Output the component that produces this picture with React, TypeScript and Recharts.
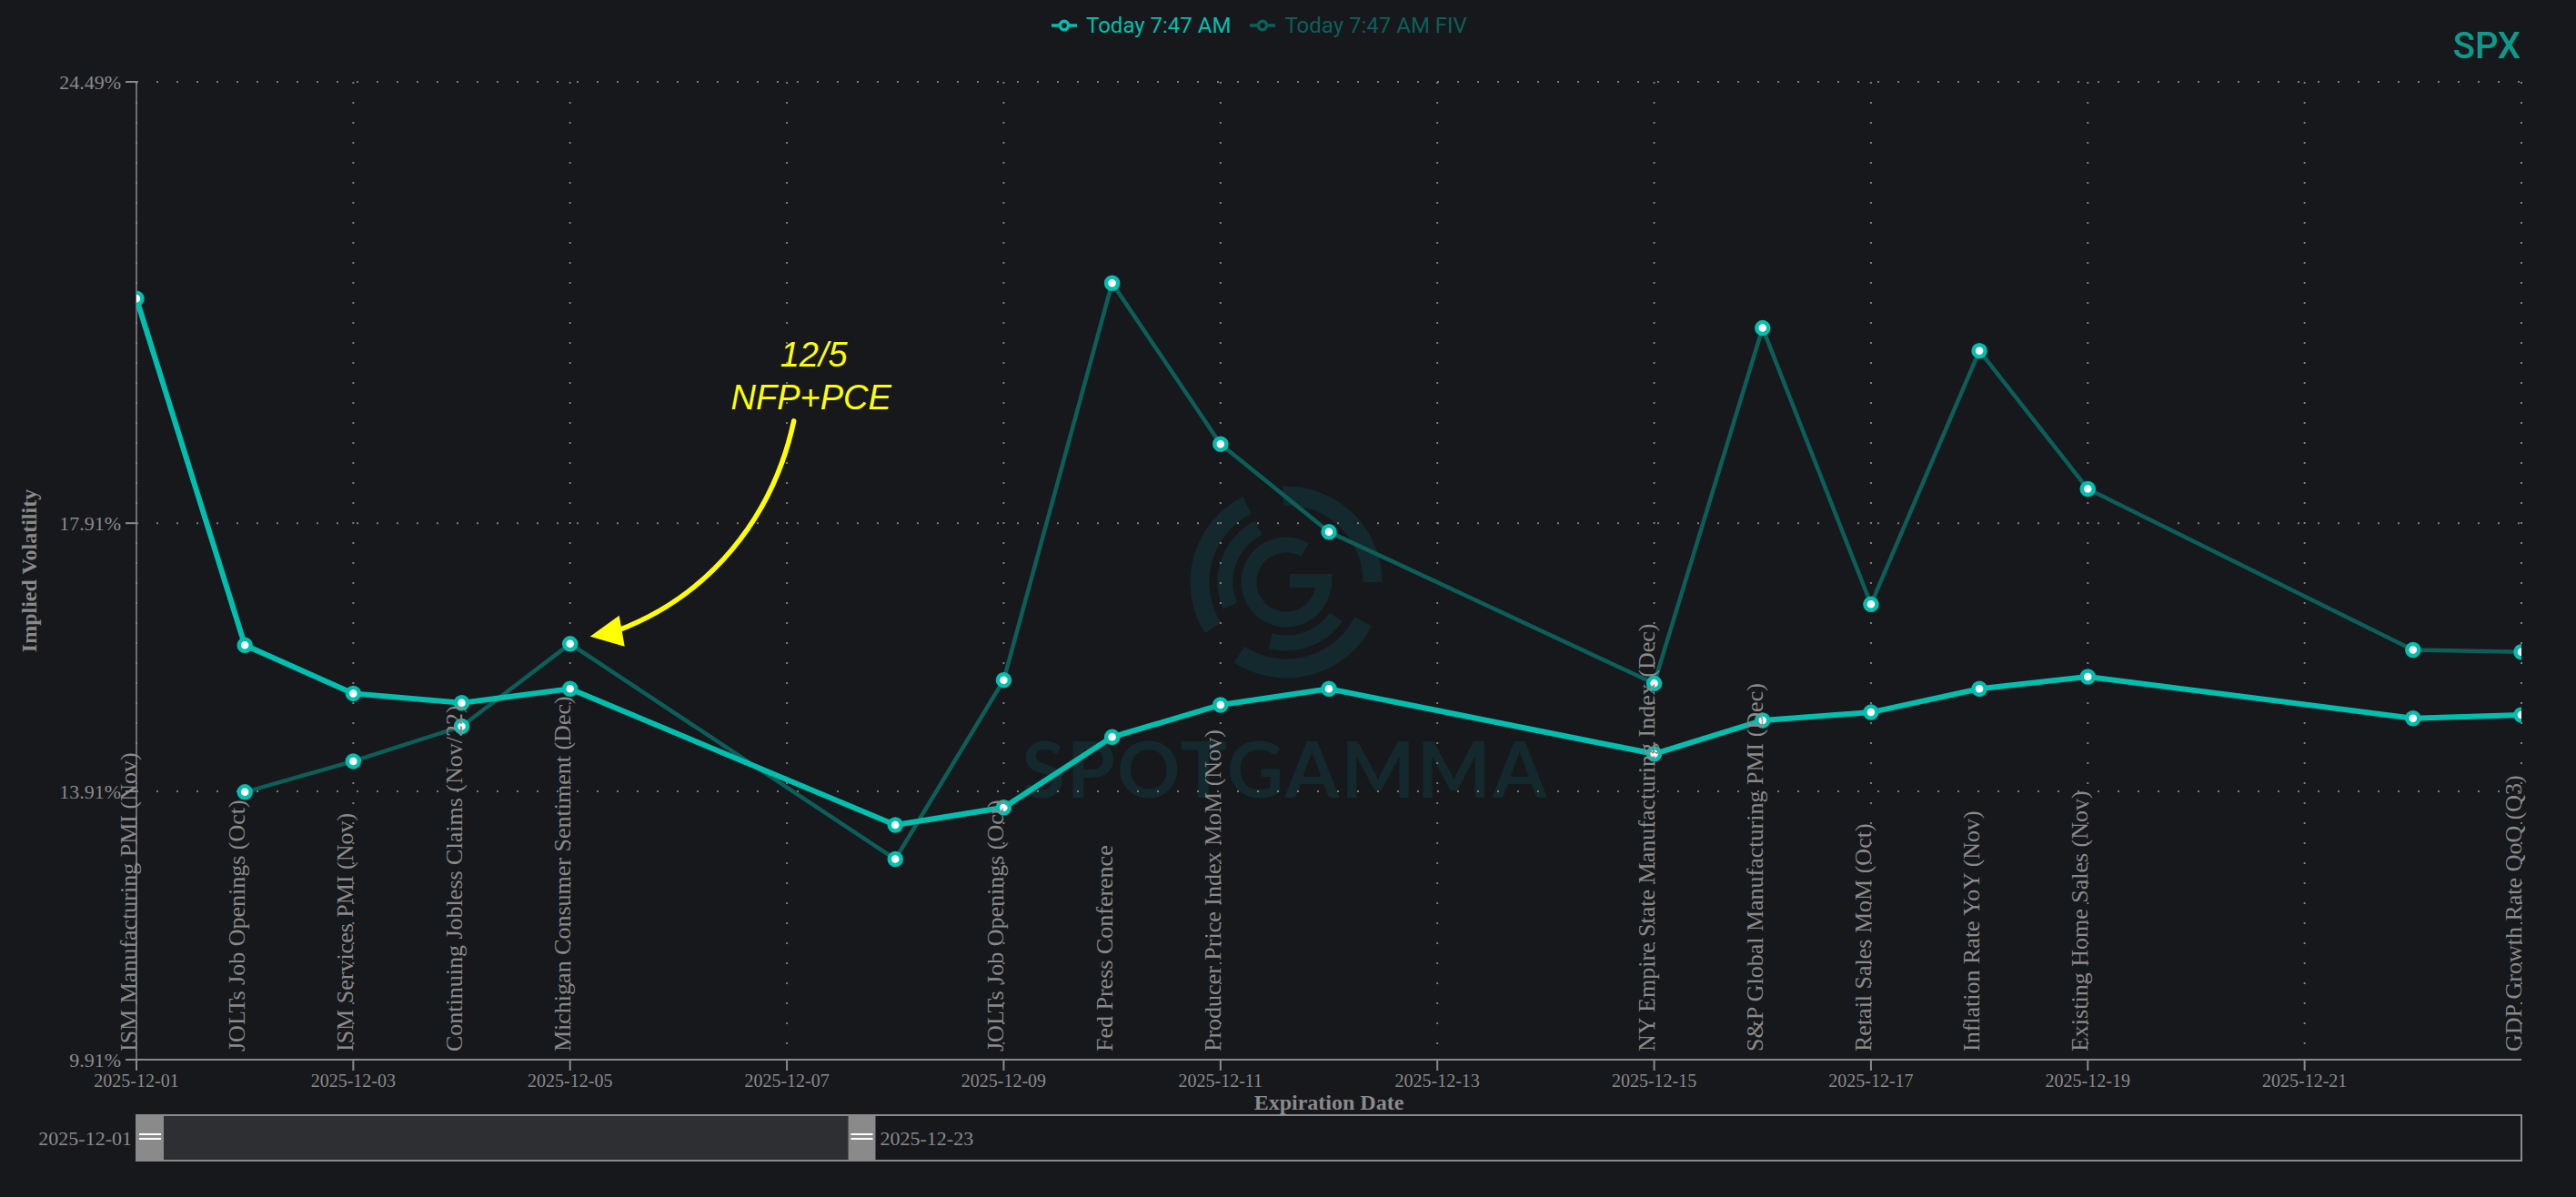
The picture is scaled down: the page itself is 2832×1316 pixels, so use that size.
import React from "react"
import { LineChart, Line, XAxis, YAxis, CartesianGrid, Legend, Brush, LabelList, ReferenceDot } from "recharts"

const BG = "#16181c"
const GRAY = "#8a8a8a"
const GRID = "#7d7d7d"
const TODAY = "#00bfae"
const FIV = "#0c5f58"
const YELLOW = "#ffff00"
const MARK = "#13292d"

// expirations shown in the chart window
const expirations = [
    "2025-12-01", "2025-12-02", "2025-12-03", "2025-12-04", "2025-12-05",
    "2025-12-08", "2025-12-09", "2025-12-10", "2025-12-11", "2025-12-12",
    "2025-12-15", "2025-12-16", "2025-12-17", "2025-12-18", "2025-12-19",
    "2025-12-22", "2025-12-23",
]
// later expirations, only reached through the brush
const laterExpirations = [
    "2025-12-24", "2025-12-26", "2025-12-29", "2025-12-30", "2025-12-31",
    "2026-01-02", "2026-01-05", "2026-01-06", "2026-01-07", "2026-01-08",
    "2026-01-09", "2026-01-12", "2026-01-13", "2026-01-14", "2026-01-15",
    "2026-01-16", "2026-01-20", "2026-01-21", "2026-01-22", "2026-01-23",
    "2026-01-26", "2026-01-27", "2026-01-28", "2026-01-29", "2026-01-30",
    "2026-02-02", "2026-02-03", "2026-02-04", "2026-02-05", "2026-02-06",
    "2026-02-09", "2026-02-10", "2026-02-11", "2026-02-12", "2026-02-13",
    "2026-02-17", "2026-02-18",
]
const todayIV = [21.26, 16.09, 15.37, 15.23, 15.44, 13.41, 13.67, 14.72, 15.2, 15.44, 14.47, 14.97, 15.09, 15.44, 15.62, 15.0, 15.05]
const fivIV = [null, 13.9, 14.36, 14.88, 16.11, 12.9, 15.57, 21.49, 19.09, 17.78, 15.52, 20.82, 16.7, 20.48, 18.42, 16.02, 15.99]
const events = [
    "ISM Manufacturing PMI (Nov)",
    "JOLTs Job Openings (Oct)",
    "ISM Services PMI (Nov)",
    "Continuing Jobless Claims (Nov/22)",
    "Michigan Consumer Sentiment (Dec)",
    "",
    "JOLTs Job Openings (Oct)",
    "Fed Press Conference",
    "Producer Price Index MoM (Nov)",
    "",
    "NY Empire State Manufacturing Index (Dec)",
    "S&P Global Manufacturing PMI (Dec)",
    "Retail Sales MoM (Oct)",
    "Inflation Rate YoY (Nov)",
    "Existing Home Sales (Nov)",
    "",
    "GDP Growth Rate QoQ (Q3)",
]
const xTickDates = [
    "2025-12-01", "2025-12-03", "2025-12-05", "2025-12-07", "2025-12-09", "2025-12-11",
    "2025-12-13", "2025-12-15", "2025-12-17", "2025-12-19", "2025-12-21",
]
const gridDates = [...xTickDates, "2025-12-23"]
const yTicks = [9.91, 13.91, 17.91, 24.49]

const W = 2832
const H = 1316
const MARGIN = { top: 0, right: 60, bottom: 40, left: 0 }
const LEGEND_H = 90
const XAXIS_H = 61
const BRUSH_H = 50
const PLOT_BOTTOM = H - MARGIN.bottom - BRUSH_H - XAXIS_H

const toTime = (d: string) => Date.parse(d + "T00:00:00Z")
const fmtDate = (t: number) => new Date(t).toISOString().slice(0, 10)
const T0 = toTime(expirations[0])
const T1 = toTime(expirations[expirations.length - 1])

const data = [...expirations, ...laterExpirations].map((date, i) => ({
    date,
    t: toTime(date),
    today: todayIV[i] ?? null,
    fiv: fivIV[i] ?? null,
    event: events[i] ?? "",
}))

const legendOrder = ["today", "fiv"]

function LegendContent({ payload }: any) {
    const items = [...(payload || [])].sort((a, b) => legendOrder.indexOf(a.dataKey) - legendOrder.indexOf(b.dataKey))
    return <div style={{ position: "relative", width: W, height: LEGEND_H }}>
        <div style={{ position: "absolute", left: 1156, top: 8, height: 40, display: "flex", alignItems: "center", fontFamily: "Roboto", fontSize: 24 }}>
            {items.map((it: any) => <div key={it.value} style={{ display: "flex", alignItems: "center", marginRight: 21, color: it.color }}>
                <svg width={28} height={28} viewBox="0 0 32 32" style={{ marginRight: 10 }}>
                    <path strokeWidth={4} fill="none" stroke={it.color}
                        d="M0,16h10.67A5.33,5.33,0,1,1,21.33,16H32M21.33,16A5.33,5.33,0,1,1,10.67,16" />
                </svg>
                <span>{it.value}</span>
            </div>)}
        </div>
    </div>
}

function EventLabel(props: any) {
    const { x, value } = props
    if (!value || x == null) return null
    const y = PLOT_BOTTOM - 9
    return <text x={x} y={y} transform={`rotate(-90 ${x} ${y})`} fill={GRAY} fontSize={26} fontFamily="Liberation Serif">{value}</text>
}

function YTitle(props: any) {
    const vb = props.viewBox || {}
    const cy = (vb.y ?? LEGEND_H) + (vb.height ?? PLOT_BOTTOM - LEGEND_H) / 2
    return <text x={40} y={cy} transform={`rotate(-90 40 ${cy})`} textAnchor="middle" fill={GRAY}
        fontSize={24} fontWeight="bold" fontFamily="Liberation Serif">Implied Volatility</text>
}

function XTitle(props: any) {
    const vb = props.viewBox || {}
    const cx = (vb.x ?? 150) + (vb.width ?? 2622) / 2
    return <text x={cx} y={(vb.y ?? PLOT_BOTTOM) + 55} textAnchor="middle" fill={GRAY}
        fontSize={24} fontWeight="bold" fontFamily="Liberation Serif">Expiration Date</text>
}

function Traveller(props: any) {
    const { x, y, width, height, stroke } = props
    const ly = Math.floor(y + height / 2) - 4
    return <g>
        <rect x={x} y={y} width={width} height={height} fill={stroke} stroke="none" />
        <line x1={x + 3} y1={ly} x2={x + width - 3} y2={ly} stroke="#fff" strokeWidth={2} />
        <line x1={x + 3} y1={ly + 5} x2={x + width - 3} y2={ly + 5} stroke="#fff" strokeWidth={2} />
    </g>
}

function Annotation(props: any) {
    const { cx, cy } = props
    if (cx == null || cy == null) return null
    return <g>
        <path d={`M${cx + 246},${cy - 245} C${cx + 223},${cy - 138} ${cx + 153},${cy - 53} ${cx + 53},${cy - 15}`}
            fill="none" stroke={YELLOW} strokeWidth={5.5} strokeLinecap="round" />
        <polygon points={`${cx + 22},${cy - 8} ${cx + 54},${cy - 31} ${cx + 60},${cy + 3}`} fill={YELLOW} />
        <text x={cx + 268} y={cy - 305} textAnchor="middle" fontFamily="Liberation Sans" fontStyle="italic" fontSize={38} fill={YELLOW}>12/5</text>
        <text x={cx + 265} y={cy - 258} textAnchor="middle" fontFamily="Liberation Sans" fontStyle="italic" fontSize={38} fill={YELLOW}>NFP+PCE</text>
    </g>
}

function arc(cx: number, cy: number, r: number, a0: number, a1: number) {
    const p = (a: number) => [cx + r * Math.cos(a * Math.PI / 180), cy + r * Math.sin(a * Math.PI / 180)]
    const [x0, y0] = p(a0)
    const [x1, y1] = p(a1)
    return `M${x0},${y0}A${r},${r} 0 ${a1 - a0 > 180 ? 1 : 0} 1 ${x1},${y1}`
}

function Watermark() {
    const cx = 1414, cy = 640
    return <g fill="none" stroke={MARK}>
        <path d={arc(cx, cy, 95, -92, 0)} strokeWidth={21} />
        <path d={arc(cx, cy, 95, 27, 123)} strokeWidth={21} />
        <path d={arc(cx, cy, 95, 148, 243)} strokeWidth={21} />
        <path d={arc(cx, cy, 67, 157, 243)} strokeWidth={17} />
        <path d={arc(cx, cy, 67, 35, 105)} strokeWidth={17} />
        <path d={arc(cx, cy, 41, -2, 300)} strokeWidth={17} />
        <rect x={1418} y={631} width={46} height={15} fill={MARK} stroke="none" />
        <text x={1413} y={877} textAnchor="middle" fontFamily="Lato" fontWeight={700} fontSize={86} letterSpacing={2} fill={MARK} stroke="none">SPOTGAMMA</text>
    </g>
}

const gridTimes = gridDates.map(toTime)
const verticalGrid = ({ xAxis, offset }: any) =>
    gridTimes.map(t => xAxis && typeof xAxis.scale === "function"
        ? xAxis.scale(t)
        : offset.left + (t - T0) / (T1 - T0) * offset.width)

const css = `
body { margin: 0; background: ${BG}; }
.recharts-brush > rect:first-child { stroke-width: 2px; }
.recharts-brush-texts text { font-size: 22px; font-family: 'Liberation Serif'; }
`

export default function App() {
    return <div style={{ position: "relative", width: W, height: H, background: BG, overflow: "hidden", fontFamily: "Liberation Serif", fontSize: 22 }}>
        <style>{css}</style>
        <svg width={W} height={H} style={{ position: "absolute", left: 0, top: 0 }}>
            <Watermark />
            <text x={2771} y={64} textAnchor="end" fontFamily="Roboto" fontWeight={500} fontSize={40} fill="#0e9a8b">SPX</text>
        </svg>
        <div style={{ position: "absolute", left: 0, top: 0 }}>
            <LineChart width={W} height={H} data={data} margin={MARGIN}>
                <CartesianGrid stroke={GRID} strokeWidth={2} strokeDasharray="2 20" verticalCoordinatesGenerator={verticalGrid} />
                <XAxis dataKey="t" type="number" domain={[T0, T1]} allowDataOverflow ticks={xTickDates.map(toTime)} interval={0}
                    tickFormatter={fmtDate} height={XAXIS_H} tickSize={12} tickMargin={4}
                    tick={{ fill: GRAY, fontSize: 20, fontFamily: "Liberation Serif" }}
                    axisLine={{ stroke: GRAY, strokeWidth: 2 }} tickLine={{ stroke: GRAY, strokeWidth: 2 }}
                    label={{ content: XTitle }} />
                <YAxis domain={[9.91, 24.49]} allowDataOverflow ticks={yTicks} interval={0} width={150}
                    tickFormatter={(v: number) => v.toFixed(2) + "%"} tickSize={12} tickMargin={5}
                    tick={{ fill: GRAY, fontSize: 22, fontFamily: "Liberation Serif" }}
                    axisLine={{ stroke: GRAY, strokeWidth: 1.5 }} tickLine={{ stroke: GRAY, strokeWidth: 2 }}
                    label={{ content: YTitle }} />
                <Legend verticalAlign="top" content={LegendContent} wrapperStyle={{ left: 0, top: 0, width: W, height: LEGEND_H }} />
                <Line dataKey="fiv" name="Today 7:47 AM FIV" type="linear" stroke={FIV} strokeWidth={4.5}
                    dot={{ r: 6.5, fill: "#fff", stroke: TODAY, strokeWidth: 4.5 }} activeDot={false} isAnimationActive={false} />
                <Line dataKey="today" name="Today 7:47 AM" type="linear" stroke={TODAY} strokeWidth={6}
                    dot={{ r: 6.5, fill: "#fff", stroke: TODAY, strokeWidth: 4.5 }} activeDot={false} isAnimationActive={false}>
                    <LabelList dataKey="event" content={EventLabel} />
                </Line>
                <ReferenceDot x={toTime(expirations[4])} y={fivIV[4] as number} r={0} ifOverflow="visible" shape={Annotation} />
                <Brush dataKey="date" y={PLOT_BOTTOM + XAXIS_H} height={BRUSH_H} travellerWidth={30}
                    stroke={GRAY} fill={BG} startIndex={0} endIndex={expirations.length - 1}
                    alwaysShowText traveller={(p: any) => <Traveller {...p} />} />
            </LineChart>
        </div>
    </div>
}
